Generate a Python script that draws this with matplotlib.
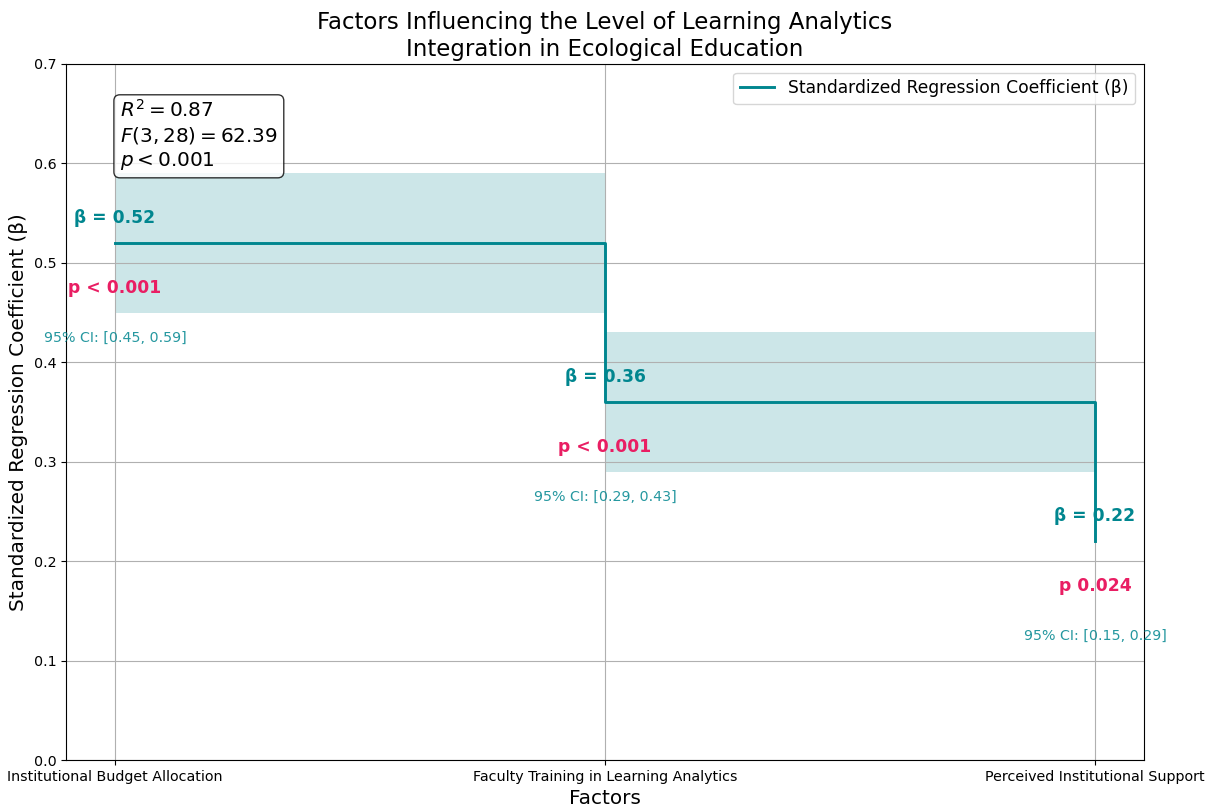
import matplotlib.pyplot as plt
import numpy as np

# Regression results for each factor
factors = ["Institutional Budget Allocation",
           "Faculty Training in Learning Analytics",
           "Perceived Institutional Support"]
betas = [0.52, 0.36, 0.22]
ci_low = [0.45, 0.29, 0.15]
ci_high = [0.59, 0.43, 0.29]
p_labels = ["p < 0.001", "p < 0.001", "p 0.024"]

line_color = "#00868F"
p_color = "#E91E63"
s = 1.03  # font scale

x = np.arange(len(factors))

fig = plt.figure(figsize=(12.11, 8.07), dpi=100)
ax = fig.add_axes([0.0545, 0.0582, 0.8902, 0.8625])

ax.step(x, betas, where="post", color=line_color, linewidth=2.1,
        label="Standardized Regression Coefficient (β)")
ax.fill_between(x, ci_low, ci_high, step="post", color=line_color, alpha=0.2,
                linewidth=0)

# Labels for each coefficient
for xi, b, lo, hi, pl in zip(x, betas, ci_low, ci_high, p_labels):
    ax.text(xi, b + 0.025, f"β = {b:.2f}", ha="center", va="center",
            fontsize=12 * s, fontweight="bold", color=line_color)
    ax.text(xi, b - 0.045, pl, ha="center", va="center",
            fontsize=12 * s, fontweight="bold", color=p_color)
    ax.text(xi, b - 0.095, f"95% CI: [{lo:.2f}, {hi:.2f}]", ha="center",
            va="center", fontsize=10 * s, color=line_color, alpha=0.85)

# Model fit statistics
stats_text = "$R^2 = 0.87$\n$F(3, 28) = 62.39$\n$p < 0.001$"
ax.text(0.05, 0.95, stats_text, transform=ax.transAxes, fontsize=14 * s,
        va="top", ha="left", linespacing=1.25,
        bbox=dict(boxstyle="round,pad=0.3", facecolor="white", alpha=0.8))

ax.set_xticks(x)
ax.set_xticklabels(factors)
ax.tick_params(labelsize=10 * s)
ax.set_xlim(-0.1, 2.1)
ax.set_ylim(0, 0.7)
ax.set_xlabel("Factors", fontsize=14 * s)
ax.set_ylabel("Standardized Regression Coefficient (β)", fontsize=14 * s)
ax.set_title("Factors Influencing the Level of Learning Analytics\n"
             "Integration in Ecological Education", fontsize=16 * s)
ax.grid(True)
ax.legend(loc="upper right", fontsize=12 * s)

fig.savefig("out.png")
